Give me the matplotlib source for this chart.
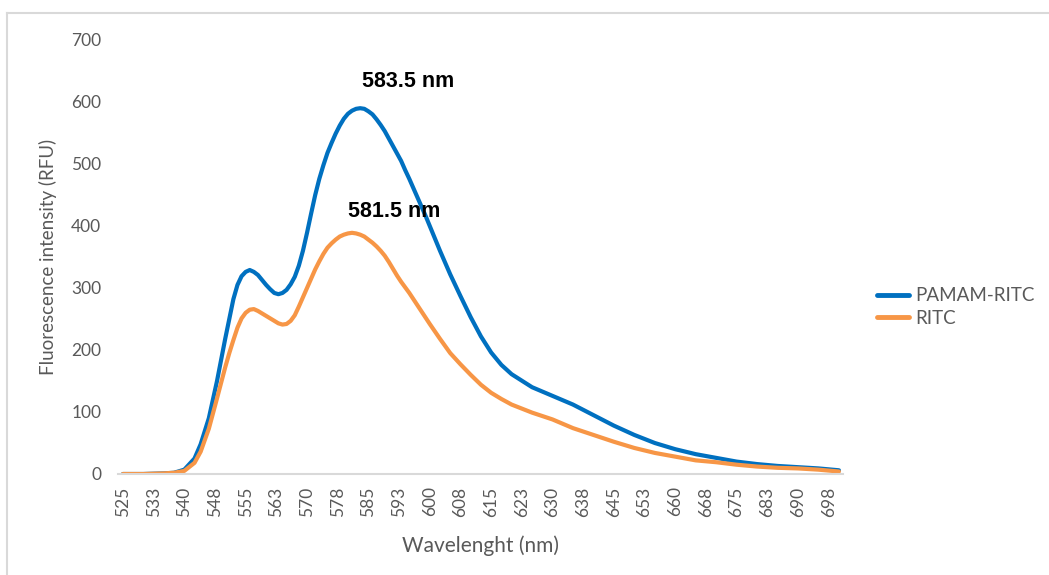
import matplotlib.pyplot as plt
from matplotlib.lines import Line2D

# Emission spectra (RFU) sampled along the wavelength scan
wavelength = [525, 530, 535, 537.5, 540, 542.5, 544, 546, 548,
              550, 551, 552, 553, 554, 555, 556, 557, 558, 559,
              560, 561, 562, 563, 564, 565, 566, 567, 568, 569,
              570, 571, 572, 573, 574, 575, 576, 577, 578, 579,
              580, 581, 582, 583, 584, 585, 586, 587, 588, 589,
              590, 591, 592, 593, 594, 595, 596, 597, 598, 599,
              600, 602.5, 605, 607.5, 610, 612.5, 615, 617.5, 620,
              625, 630, 635, 640, 645, 650, 655, 660, 665, 670,
              675, 680, 685, 690, 695, 700]
pamam_ritc = [0, 0, 1, 2, 7, 25, 48, 90, 150,
              218, 250, 282, 305, 319, 326, 329, 326, 321, 313,
              305, 298, 292, 290, 292, 297, 306, 318, 336, 360,
              389, 420, 450, 476, 498, 518, 534, 549, 562, 573,
              581, 586, 589, 590, 589, 585, 580, 572, 563, 553,
              541, 529, 517, 505, 490, 476, 461, 446, 431, 416,
              400, 360, 322, 287, 253, 222, 196, 176, 161,
              140, 126, 112, 95, 78, 63, 50, 40, 32, 26,
              20, 16, 13, 11, 9, 6]
ritc = [0, 0, 1, 2, 5, 18, 36, 73, 122,
        172, 195, 216, 236, 251, 260, 265, 266, 263, 259,
        255, 251, 247, 243, 241, 242, 247, 256, 270, 285,
        300, 315, 330, 343, 355, 365, 372, 378, 383, 386,
        388, 389, 388, 386, 383, 378, 373, 367, 360, 352,
        342, 331, 320, 310, 301, 292, 282, 272, 262, 252,
        242, 218, 195, 177, 160, 144, 131, 121, 112,
        99, 88, 74, 63, 52, 42, 34, 28, 22, 19,
        15, 12, 10, 9, 7, 4]

tick_pos = [525 + 7.5 * i for i in range(24)]
tick_labels = ['525', '533', '540', '548', '555', '563', '570', '578',
               '585', '593', '600', '608', '615', '623', '630', '638',
               '645', '653', '660', '668', '675', '683', '690', '698']

# peak wavelength, peak intensity, label text
peaks = [(583.5, 590, '583.5 nm'), (581.5, 389, '581.5 nm')]
label_offsets = [(33, 19), (29, 15)]

BLUE = '#0070C0'
ORANGE = '#F79646'
GREY = '#595959'

fig = plt.figure(figsize=(10.49, 5.75), dpi=100)
ax = fig.add_axes([118 / 1049, 1 - 474 / 575, (843 - 118) / 1049, (474 - 40) / 575])

ax.plot(wavelength, pamam_ritc, color=BLUE, lw=3.0, solid_capstyle='round',
        solid_joinstyle='round', label='PAMAM-RITC')
ax.plot(wavelength, ritc, color=ORANGE, lw=3.0, solid_capstyle='round',
        solid_joinstyle='round', label='RITC')

for (x, y, txt), off in zip(peaks, label_offsets):
    ax.annotate(txt, (x, y), xytext=off, textcoords='offset points',
                ha='center', va='center', fontsize=15.5, fontweight='bold',
                family='Liberation Sans', color='black')

ax.set_xlim(523.8, 701)
ax.set_ylim(0, 700)
ax.set_yticks(range(0, 701, 100))
ax.set_xticks(tick_pos)
ax.set_xticklabels(tick_labels, rotation=90)

for s in ['top', 'right', 'left']:
    ax.spines[s].set_visible(False)
ax.spines['bottom'].set_color('#D9D9D9')
ax.spines['bottom'].set_linewidth(1.5)
ax.tick_params(length=0, labelsize=12.5, labelcolor=GREY)
ax.tick_params(axis='y', pad=12)
ax.tick_params(axis='x', pad=9)
for lbl in ax.get_xticklabels() + ax.get_yticklabels():
    lbl.set_family('Lato')

ax.set_xlabel('Wavelenght (nm)', fontsize=15, color=GREY, family='Lato', labelpad=13)
ax.set_ylabel('Fluorescence intensity (RFU)', fontsize=13.5, color=GREY,
              family='Lato', labelpad=10)

handles = [Line2D([], [], color=BLUE, lw=3.5, solid_capstyle='round'),
           Line2D([], [], color=ORANGE, lw=3.5, solid_capstyle='round')]
fig.legend(handles, ['PAMAM-RITC', 'RITC'], loc='center left',
           bbox_to_anchor=(860 / 1049, 1 - 307 / 575), frameon=False,
           prop={'family': 'Lato', 'size': 13.5}, labelcolor=GREY,
           handlelength=1.7, handletextpad=0.35, labelspacing=0.3)

# chart frame (top and left edges)
fig.add_artist(Line2D([7 / 1049, 1], [1 - 13 / 575, 1 - 13 / 575],
                      color='#D9D9D9', lw=1.5, transform=fig.transFigure))
fig.add_artist(Line2D([7 / 1049, 7 / 1049], [0, 1 - 13 / 575],
                      color='#D9D9D9', lw=1.5, transform=fig.transFigure))

fig.savefig('out.png', dpi=100)
